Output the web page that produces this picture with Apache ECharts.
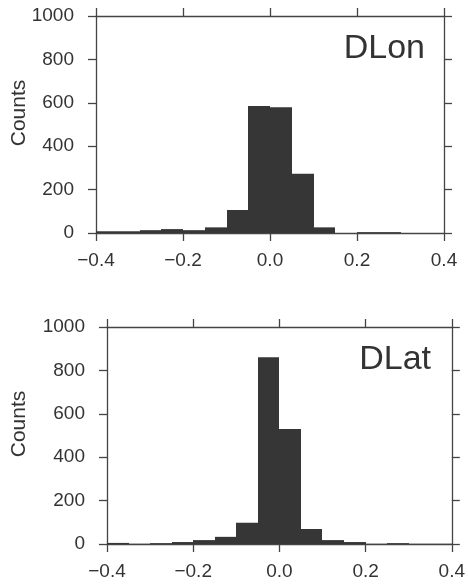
<!DOCTYPE html>
<html>
<head>
<meta charset="utf-8">
<script src="https://cdn.jsdelivr.net/npm/echarts@6/dist/echarts.min.js"></script>
<style>html,body{margin:0;padding:0;background:#fff}#c{width:468px;height:585px}</style>
</head>
<body>
<div id="c"></div>
<script>
// Bin edges (left edges), bin width 0.05
const binStarts = [-0.4,-0.35,-0.3,-0.25,-0.2,-0.15,-0.1,-0.05,0,0.05,0.1,0.15,0.2,0.25,0.3,0.35];
const binWidth = 0.05;
const dlonCounts = [8, 8, 13, 18, 13, 26, 106, 585, 580, 273, 26, 0, 4, 4, 0, 0];
const dlatCounts = [5, 1, 4, 9, 18, 33, 98, 861, 530, 69, 18, 9, 1, 4, 1, 1];
const panelLabels = ['DLon', 'DLat'];
const xTicks = [-0.4, -0.2, 0.0, 0.2, 0.4];
const yTicks = [0, 200, 400, 600, 800, 1000];

const FONT = '"Liberation Sans", Arial, Helvetica, sans-serif';
const AX = '#444';
const TXT = '#333';
const BAR = '#363636';

function fmtX(v){ const r = Math.round(v*10)/10; return (r < 0 ? '\u2212' : '') + Math.abs(r).toFixed(1); }
function fmtY(v){ return String(Math.round(v)); }

const grids = [
  {left: 96, top: 16, width: 348, height: 217},
  {left: 107, top: 327, width: 348, height: 217}
];

function xAxes(gi){
  const base = {
    type: 'value', gridIndex: gi, min: -0.4, max: 0.4, interval: 0.2,
    splitLine: {show: false},
    axisLine: {show: true, onZero: false, lineStyle: {color: AX, width: 1.3}},
    axisTick: {show: true, inside: false, length: 8, lineStyle: {color: AX, width: 1.3}}
  };
  return [
    Object.assign({}, base, {position: 'bottom',
      axisLabel: {show: true, formatter: fmtX, color: TXT, fontSize: 19, fontFamily: FONT, margin: 18}}),
    Object.assign({}, base, {position: 'top', axisLabel: {show: false}})
  ];
}
function yAxes(gi){
  const base = {
    type: 'value', gridIndex: gi, min: 0, max: 1000, interval: 200,
    splitLine: {show: false},
    axisLine: {show: true, onZero: false, lineStyle: {color: AX, width: 1.3}},
    axisTick: {show: true, inside: false, length: 8, lineStyle: {color: AX, width: 1.3}}
  };
  return [
    Object.assign({}, base, {position: 'left',
      axisLabel: {show: true, formatter: fmtY, color: TXT, fontSize: 19, fontFamily: FONT, margin: 22}}),
    Object.assign({}, base, {position: 'right', axisLabel: {show: false}})
  ];
}

function histSeries(gi, counts){
  return {
    type: 'custom', xAxisIndex: gi*2, yAxisIndex: gi*2,
    data: binStarts.map((s, i) => [s, s + binWidth, counts[i]]),
    renderItem: function(params, api){
      const p0 = api.coord([api.value(0), api.value(2)]);
      const p1 = api.coord([api.value(1), 0]);
      const x0 = Math.round(p0[0]), x1 = Math.round(p1[0]);
      return {type: 'rect', shape: {x: x0, y: p0[1], width: x1 - x0, height: p1[1]-p0[1]},
        style: {fill: BAR, stroke: null}};
    },
    silent: true, animation: false
  };
}

const chart = echarts.init(document.getElementById('c'));
chart.setOption({
  animation: false,
  backgroundColor: '#fff',
  grid: grids,
  xAxis: xAxes(0).concat(xAxes(1)),
  yAxis: yAxes(0).concat(yAxes(1)),
  series: [histSeries(0, dlonCounts), histSeries(1, dlatCounts)],
  graphic: [
    {type: 'text', x: 19, y: 113, rotation: Math.PI/2,
      style: {text: 'Counts', fill: TXT, font: '21px ' + FONT, textAlign: 'center', textVerticalAlign: 'middle'}},
    {type: 'text', x: 19, y: 424, rotation: Math.PI/2,
      style: {text: 'Counts', fill: TXT, font: '21px ' + FONT, textAlign: 'center', textVerticalAlign: 'middle'}},
    {type: 'text', x: 425, y: 49,
      style: {text: panelLabels[0], fill: TXT, font: '34px ' + FONT, textAlign: 'right', textVerticalAlign: 'middle'}},
    {type: 'text', x: 431, y: 360,
      style: {text: panelLabels[1], fill: TXT, font: '34px ' + FONT, textAlign: 'right', textVerticalAlign: 'middle'}}
  ]
});
</script>
</body>
</html>
